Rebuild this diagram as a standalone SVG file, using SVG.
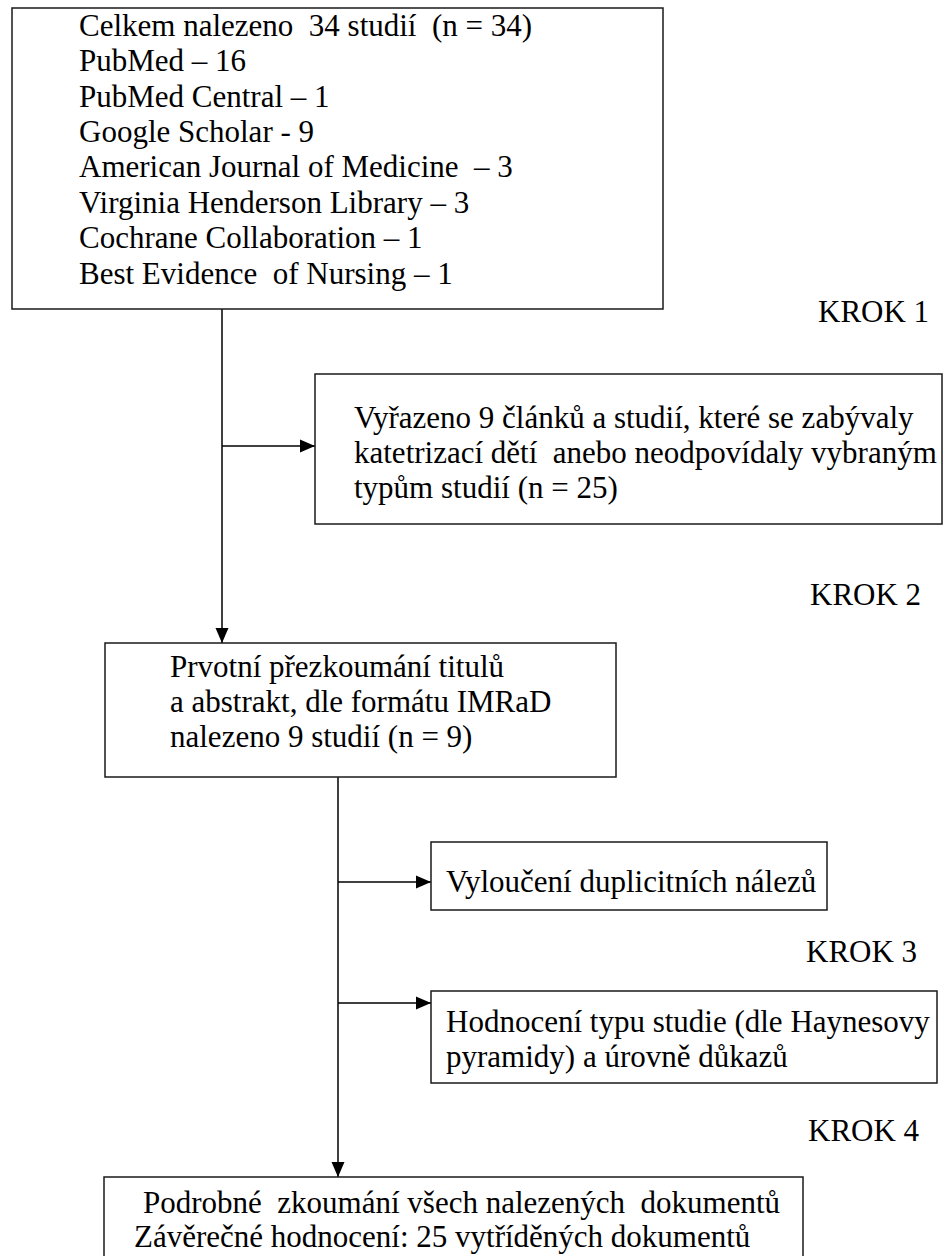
<svg xmlns="http://www.w3.org/2000/svg" width="945" height="1256" viewBox="0 0 945 1256">
<style>
  .box { fill: #fff; stroke: #1a1a1a; stroke-width: 1.5; }
  .t { font-family: "Liberation Serif", "Times New Roman", serif; font-size: 31px; fill: #000; white-space: pre; }
  .conn { stroke: #000; stroke-width: 1.5; fill: none; }
</style>
<defs>
  <marker id="arr" markerUnits="userSpaceOnUse" markerWidth="16" markerHeight="14" refX="15" refY="7" orient="auto">
    <path d="M0,0.5 L15,7 L0,13.5 Z" fill="#000"/>
  </marker>
</defs>
<rect width="945" height="1256" fill="#fff"/>

<g id="connectors">
  <line class="conn" x1="222" y1="309" x2="222" y2="643" marker-end="url(#arr)"/>
  <line class="conn" x1="222" y1="446" x2="315" y2="446" marker-end="url(#arr)"/>
  <line class="conn" x1="338" y1="777" x2="338" y2="1177" marker-end="url(#arr)"/>
  <line class="conn" x1="338" y1="882" x2="431" y2="882" marker-end="url(#arr)"/>
  <line class="conn" x1="338" y1="1003" x2="431" y2="1003" marker-end="url(#arr)"/>
</g>

<g id="node-sources">
  <rect class="box" x="12" y="8" width="651" height="301"/>
  <text class="t" x="79" y="36" xml:space="preserve">Celkem nalezeno  34 studií  (n = 34)</text>
  <text class="t" x="79" y="71">PubMed – 16</text>
  <text class="t" x="79" y="107">PubMed Central – 1</text>
  <text class="t" x="79" y="142">Google Scholar - 9</text>
  <text class="t" x="79" y="177" xml:space="preserve">American Journal of Medicine  – 3</text>
  <text class="t" x="79" y="213">Virginia Henderson Library – 3</text>
  <text class="t" x="79" y="248">Cochrane Collaboration – 1</text>
  <text class="t" x="79" y="284" xml:space="preserve">Best Evidence  of Nursing – 1</text>
</g>

<g id="node-krok1"><text class="t" x="818" y="322">KROK 1</text></g>

<g id="node-excluded">
  <rect class="box" x="315" y="374" width="627" height="150"/>
  <text class="t" x="354" y="428">Vyřazeno 9 článků a studií, které se zabývaly</text>
  <text class="t" x="354" y="463" xml:space="preserve">katetrizací dětí  anebo neodpovídaly vybraným</text>
  <text class="t" x="354" y="498">typům studií (n = 25)</text>
</g>

<g id="node-krok2"><text class="t" x="810" y="605">KROK 2</text></g>

<g id="node-screening">
  <rect class="box" x="105" y="643" width="511" height="134"/>
  <text class="t" x="170" y="677">Prvotní přezkoumání titulů</text>
  <text class="t" x="170" y="712">a abstrakt, dle formátu IMRaD</text>
  <text class="t" x="170" y="747">nalezeno 9 studií (n = 9)</text>
</g>

<g id="node-duplicates">
  <rect class="box" x="431" y="842" width="396" height="68"/>
  <text class="t" x="446" y="892">Vyloučení duplicitních nálezů</text>
</g>

<g id="node-krok3"><text class="t" x="806" y="962">KROK 3</text></g>

<g id="node-evaluation">
  <rect class="box" x="431" y="991" width="506" height="92"/>
  <text class="t" x="446" y="1032">Hodnocení typu studie (dle Haynesovy</text>
  <text class="t" x="446" y="1067">pyramidy) a úrovně důkazů</text>
</g>

<g id="node-krok4"><text class="t" x="808" y="1141">KROK 4</text></g>

<g id="node-final">
  <rect class="box" x="104" y="1177" width="699" height="100"/>
  <text class="t" x="143" y="1213" xml:space="preserve">Podrobné  zkoumání všech nalezených  dokumentů</text>
  <text class="t" x="134" y="1247">Závěrečné hodnocení: 25 vytříděných dokumentů</text>
</g>
</svg>
